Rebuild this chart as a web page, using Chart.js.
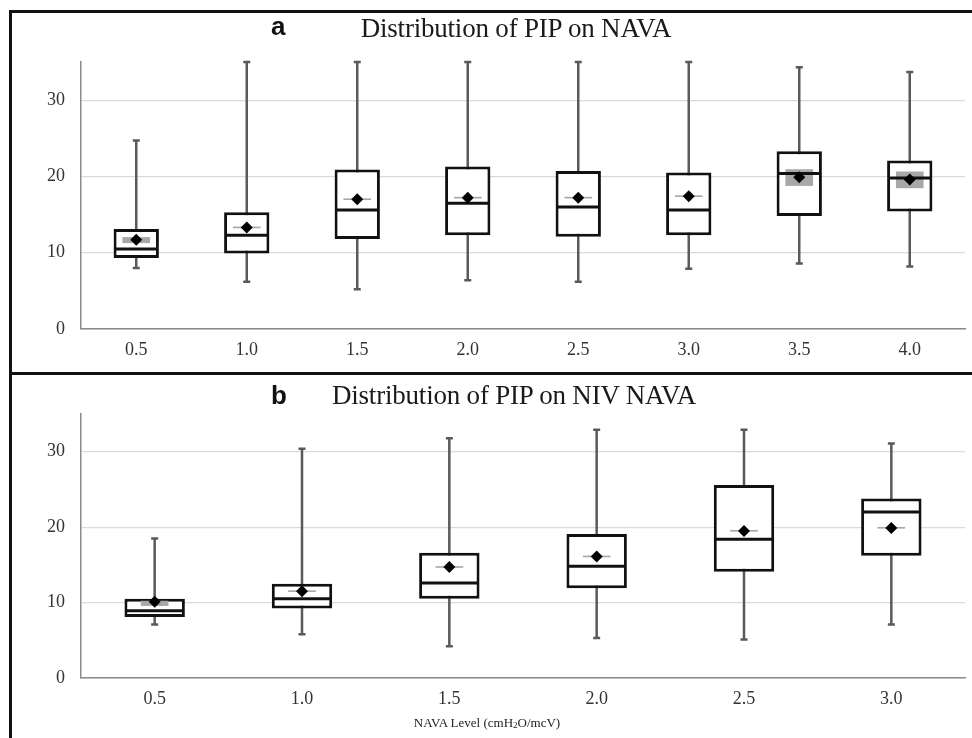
<!DOCTYPE html>
<html>
<head>
<meta charset="utf-8">
<script src="https://cdn.jsdelivr.net/npm/chart.js@4"></script>
<style>
  body { margin: 0; background: #fff; width: 972px; height: 738px; overflow: hidden; position: relative; }
  canvas { position: absolute; left: 0; }
  .line { position: absolute; background: #111; z-index: 5; }
  .tag { position: absolute; font: bold 26px "Liberation Sans", Arial, sans-serif; line-height: 1; color: #111; }
  .title { position: absolute; font: 27px "Liberation Serif", "Times New Roman", serif; line-height: 1; color: #1a1a1a; transform: translateX(-50%); white-space: nowrap; letter-spacing: -0.2px; }
  .xlab { position: absolute; font: 13px "Liberation Serif", "Times New Roman", serif; line-height: 1; color: #222; transform: translateX(-50%); white-space: nowrap; }
</style>
</head>
<body>
<canvas id="chartA" width="972" height="373" style="top:0"></canvas>
<canvas id="chartB" width="972" height="365" style="top:373px"></canvas>

<div class="line" style="left:9px; top:10px; width:963px; height:3px"></div>
<div class="line" style="left:9px; top:10px; width:3px; height:728px"></div>
<div class="line" style="left:9px; top:372px; width:963px; height:3px"></div>

<div class="tag" style="left:271px; top:13px">a</div>
<div class="title" style="left:516px; top:15px">Distribution of PIP on NAVA</div>
<div class="tag" style="left:271px; top:382px">b</div>
<div class="title" style="left:514px; top:382px">Distribution of PIP on NIV NAVA</div>
<div class="xlab" style="left:487px; top:716px">NAVA Level (cmH<sub style="font-size:9px; vertical-align:-1px">2</sub>O/mcV)</div>

<script>
// tick labels
const yTicks = [0, 10, 20, 30];

// panel a: PIP on NAVA
const levelsA = ['0.5', '1.0', '1.5', '2.0', '2.5', '3.0', '3.5', '4.0'];
const minA  = [8.0, 6.2, 5.2, 6.4, 6.2, 7.9, 8.6, 8.2];
const q1A   = [9.3, 9.9, 11.8, 12.3, 12.1, 12.3, 14.8, 15.4];
const medA  = [10.5, 12.3, 15.6, 16.5, 16.0, 15.6, 20.4, 19.8];
const q3A   = [13.1, 15.3, 20.9, 21.3, 20.7, 20.5, 23.3, 22.1];
const maxA  = [24.7, 35, 35, 35, 35, 35, 34.3, 33.7];
const meanA = [11.7, 13.3, 17.0, 17.2, 17.2, 17.4, 19.9, 19.6];
const ciLoA = [11.3, 13.25, 16.95, 17.15, 17.15, 17.35, 18.8, 18.5];
const ciHiA = [12.0, 13.35, 17.05, 17.25, 17.25, 17.45, 20.9, 20.6];

// panel b: PIP on NIV NAVA
const levelsB = ['0.5', '1.0', '1.5', '2.0', '2.5', '3.0'];
const minB  = [7.1, 5.8, 4.2, 5.3, 5.1, 7.1];
const q1B   = [8.1, 9.2, 10.5, 11.9, 14.1, 16.2];
const medB  = [8.9, 10.5, 12.6, 14.8, 18.4, 22.0];
const q3B   = [10.5, 12.5, 16.6, 19.1, 25.6, 23.8];
const maxB  = [18.5, 30.4, 31.8, 32.9, 32.9, 31.1];
const meanB = [10.1, 11.5, 14.7, 16.1, 19.5, 19.9];
const ciLoB = [9.6, 11.45, 14.65, 16.05, 19.45, 19.85];
const ciHiB = [10.2, 11.55, 14.75, 16.15, 19.55, 19.95];

const serif = '"Liberation Serif", "Times New Roman", serif';

// whiskers behind the boxes, median line on top of the grey mean band
const boxPlot = {
  id: 'boxPlot',
  beforeDatasetsDraw(chart, args, opts) {
    const ctx = chart.ctx;
    const x = chart.scales.x, y = chart.scales.y;
    ctx.save();
    ctx.strokeStyle = '#5a5a5a';
    ctx.lineWidth = 2.5;
    opts.min.forEach((lo, i) => {
      const cx = x.getPixelForValue(i);
      const yTop = y.getPixelForValue(opts.max[i]);
      const yBot = y.getPixelForValue(lo);
      ctx.beginPath();
      ctx.moveTo(cx, yTop);
      ctx.lineTo(cx, yBot);
      ctx.moveTo(cx - 3.5, yTop);
      ctx.lineTo(cx + 3.5, yTop);
      ctx.moveTo(cx - 3.5, yBot);
      ctx.lineTo(cx + 3.5, yBot);
      ctx.stroke();
    });
    ctx.restore();
  },
  afterDatasetDraw(chart, args, opts) {
    if (args.index !== 1) return;
    const ctx = chart.ctx;
    const x = chart.scales.x, y = chart.scales.y;
    const boxes = chart.getDatasetMeta(0).data;
    ctx.save();
    ctx.strokeStyle = '#111';
    ctx.lineWidth = 3;
    opts.med.forEach((m, i) => {
      const half = boxes[i].width / 2;
      const cx = x.getPixelForValue(i);
      const py = y.getPixelForValue(m);
      ctx.beginPath();
      ctx.moveTo(cx - half + 1, py);
      ctx.lineTo(cx + half - 1, py);
      ctx.stroke();
    });
    ctx.restore();
  }
};

function makeChart(id, labels, mins, q1, med, q3, maxs, means, ciLo, ciHi, padTop, xHeight) {
  return new Chart(document.getElementById(id), {
    type: 'bar',
    data: {
      labels: labels,
      datasets: [
        {
          label: 'IQR',
          data: q1.map((v, i) => [v, q3[i]]),
          backgroundColor: '#fff',
          borderColor: '#111',
          borderWidth: 3,
          borderSkipped: false,
          barPercentage: 0.41,
          categoryPercentage: 1,
          grouped: false,
          order: 3
        },
        {
          label: 'Mean band',
          data: ciLo.map((v, i) => [v, ciHi[i]]),
          backgroundColor: '#a8a8a8',
          borderWidth: 0,
          barThickness: 27,
          minBarLength: 1,
          grouped: false,
          order: 2
        },
        {
          type: 'line',
          label: 'Mean',
          data: means,
          showLine: false,
          pointStyle: 'rectRot',
          pointRadius: 6,
          backgroundColor: '#000',
          borderColor: '#000',
          borderWidth: 0,
          order: 0
        }
      ]
    },
    options: {
      responsive: false,
      animation: false,
      layout: { padding: { top: padTop, right: 7, left: 0, bottom: 0 } },
      plugins: {
        legend: { display: false },
        tooltip: { enabled: false },
        boxPlot: { min: mins, max: maxs, med: med }
      },
      scales: {
        x: {
          grid: { display: false, drawTicks: false },
          border: { display: true, color: '#8a8a8a', width: 1.5 },
          ticks: { font: { family: serif, size: 18 }, color: '#333', padding: 10 },
          afterFit(scale) { scale.height = xHeight; }
        },
        y: {
          min: 0,
          max: 35,
          grid: { color: '#dadada', lineWidth: 1.2, drawTicks: false },
          border: { display: true, color: '#8a8a8a', width: 1.5 },
          ticks: { font: { family: serif, size: 18 }, color: '#333', padding: 16 },
          afterBuildTicks(scale) { scale.ticks = yTicks.map(v => ({ value: v })); },
          afterFit(scale) { scale.width = 81; }
        }
      }
    },
    plugins: [boxPlot]
  });
}

makeChart('chartA', levelsA, minA, q1A, medA, q3A, maxA, meanA, ciLoA, ciHiA, 62, 44);
makeChart('chartB', levelsB, minB, q1B, medB, q3B, maxB, meanB, ciLoB, ciHiB, 41, 60);
</script>
</body>
</html>
